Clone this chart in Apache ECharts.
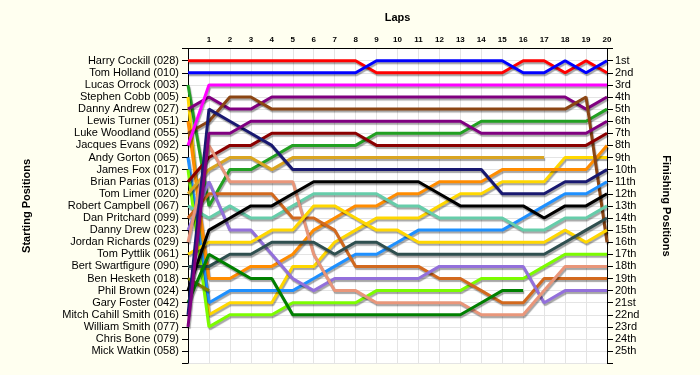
<!DOCTYPE html>
<html><head><meta charset="utf-8">
<script src="https://cdn.jsdelivr.net/npm/echarts@6/dist/echarts.min.js"></script>
<style>html,body{margin:0;padding:0;background:#fffff0}#c{width:700px;height:375px}</style>
</head><body><div id="c"></div><script>
const laps = ['0','1','2','3','4','5','6','7','8','9','10','11','12','13','14','15','16','17','18','19','20'];
const drivers = ['Harry Cockill (028)','Tom Holland (010)','Lucas Orrock (003)','Stephen Cobb (005)','Danny Andrew (027)','Lewis Turner (051)','Luke Woodland (055)','Jacques Evans (092)','Andy Gorton (065)','James Fox (017)','Brian Parias (013)','Tom Limer (020)','Robert Campbell (067)','Dan Pritchard (099)','Danny Drew (023)','Jordan Richards (029)','Tom Pyttlik (061)','Bert Swartfigure (090)','Ben Hesketh (018)','Phil Brown (024)','Gary Foster (042)','Mitch Cahill Smith (016)','William Smith (077)','Chris Bone (079)','Mick Watkin (058)'];
const finishLabels = ['1st','2nd','3rd','4th','5th','6th','7th','8th','9th','10th','11th','12th','13th','14th','15th','16th','17th','18th','19th','20th','21st','22nd','23rd','24th','25th'];

// position of each driver after each lap (index 0 = start)
const harryCockill     = [1,1,1,1,1,1,1,1,1,2,2,2,2,2,2,2,1,1,2,1,2];
const tomHolland       = [2,2,2,2,2,2,2,2,2,1,1,1,1,1,1,1,2,2,1,2,1];
const lucasOrrock      = [3,13,10,10,9,8,8,8,8,7,7,7,7,7,6,6,6,6,6,6,5];
const stephenCobb      = [4,22,21,21,21,18,18,16,15,14,14,14,13,12,12,11,11,11,9,9,9];
const dannyAndrew      = [5,4,5,5,4,4,4,4,4,4,4,4,4,4,4,4,4,4,4,5,4];
const lewisTurner      = [6,19,19,18,18,17,15,14,13,13,12,12,11,11,11,10,10,10,10,10,8];
const lukeWoodland     = [7,6,4,4,5,5,5,5,5,5,5,5,5,5,5,5,5,5,5,4,16];
const jacquesEvans     = [8,3,3,3,3,3,3,3,3,3,3,3,3,3,3,3,3,3,3,3,3];
const andyGorton       = [9,21,20,20,20,20,19,18,17,17,16,15,15,15,15,15,14,13,12,12,11];
const jamesFox         = [10,23,22,22,22,21,21,21,21,20,20,20,20,20,19,19,19,18,17,17,17];
const brianParias      = [11,9,8,8,7,7,7,7,7,8,8,8,8,8,8,8,8,8,8,8,7];
const tomLimer         = [12,10,9,9,10,9,9,9,9,9,9,9,9,9,9,9,9,9,null,null,null];
const robertCampbell   = [13,14,13,14,14,13,12,12,12,12,13,13,14,14,14,14,15,15,14,14,13];
const danPritchard     = [14,12,12,12,12,14,14,15,18,18,18,18,19,19,20,21,21,19,19,19,19];
const dannyDrew        = [15,11,15,15,17,19,20,19,19,19,19,19,18,18,18,18,18,21,20,20,20];
const jordanRichards   = [16,8,11,11,11,11,17,20,20,21,21,21,21,21,22,22,22,20,18,18,18];
const tomPyttlik       = [17,16,16,16,15,15,13,13,14,15,15,16,16,16,16,16,16,16,15,16,15];
const bertSwartfigure  = [18,18,17,17,16,16,16,17,16,16,17,17,17,17,17,17,17,17,16,15,14];
const benHesketh       = [19,20,null,null,null,null,null,null,null,null,null,null,null,null,null,null,null,null,null,null,null];
const philBrown        = [20,15,14,13,13,12,11,11,11,11,11,11,12,13,13,13,13,14,13,13,12];
const garyFoster       = [21,17,18,19,19,22,22,22,22,22,22,22,22,22,21,20,20,null,null,null,null];
const mitchCahillSmith = [22,5,6,7,8,10,10,10,10,10,10,10,10,10,10,12,12,12,11,11,10];
const williamSmith     = [23,7,7,6,6,6,6,6,6,6,6,6,6,6,7,7,7,7,7,7,6];

const seriesData = [harryCockill,tomHolland,lucasOrrock,stephenCobb,dannyAndrew,lewisTurner,lukeWoodland,jacquesEvans,andyGorton,jamesFox,brianParias,tomLimer,robertCampbell,danPritchard,dannyDrew,jordanRichards,tomPyttlik,bertSwartfigure,benHesketh,philBrown,garyFoster,mitchCahillSmith,williamSmith];
const colors = ['#ff0000','#0000ff','#22a022','#ffd700','#800080','#ff8c00','#8b4513','#ff00ff','#1e90ff','#7cfc00','#8b0000','#daa520','#66cdaa','#d2691e','#9370db','#e9967a','#ffd700','#2f4f4f','#808000','#000000','#008000','#191970','#800080'];

const chart = echarts.init(document.getElementById('c'));
const lbl = {fontFamily:'Liberation Sans, Arial, sans-serif', fontSize:11, color:'#000'};
const ttl = {fontFamily:'Liberation Sans, Arial, sans-serif', fontSize:11, fontWeight:'bold', color:'#000'};
chart.setOption({
  animation:false,
  backgroundColor:'#fffff0',
  grid:{left:188, right:93, top:48.6, bottom:11.8, show:true, backgroundColor:'#ffffff', borderWidth:0},
  xAxis:{type:'category', data:laps, boundaryGap:false, position:'top',
    name:'Laps', nameLocation:'middle', nameGap:25, nameTextStyle:ttl,
    axisLine:{show:true, lineStyle:{color:'#000', width:1}},
    axisTick:{show:false},
    axisLabel:{interval:0, margin:5, fontFamily:'Liberation Sans, Arial, sans-serif', fontSize:8, fontWeight:'bold', color:'#000', formatter:v=>v==='0'?'':v},
    splitLine:{show:true, interval:0, lineStyle:{color:'#e4e4e4', width:1}}},
  yAxis:[
    {type:'value', min:0, max:26, interval:1, inverse:true, position:'left',
     name:'Starting Positions', nameLocation:'middle', nameRotate:90, nameGap:156, nameTextStyle:ttl,
     axisLine:{show:true, lineStyle:{color:'#000', width:1}},
     axisTick:{show:true, length:6, lineStyle:{color:'#000'}},
     axisLabel:Object.assign({margin:9, formatter:v=>drivers[v-1]||''}, lbl),
     splitLine:{show:true, lineStyle:{color:'#e4e4e4', width:1}}},
    {type:'value', min:0, max:26, interval:1, inverse:true, position:'right',
     name:'Finishing Positions', nameLocation:'middle', nameRotate:-90, nameGap:54, nameTextStyle:ttl,
     axisLine:{show:true, lineStyle:{color:'#000', width:1}},
     axisTick:{show:true, length:6, lineStyle:{color:'#000'}},
     axisLabel:Object.assign({margin:8, formatter:v=>finishLabels[v-1]||''}, lbl),
     splitLine:{show:false}}
  ],
  series: seriesData.map((d,i)=>({
    type:'line', name:drivers[i], data:d, yAxisIndex:0, symbol:'none', showSymbol:false, silent:true,
    connectNulls:false,
    lineStyle:{width:3, color:colors[i], shadowColor:'rgba(0,0,0,0.35)', shadowOffsetX:1, shadowOffsetY:2, shadowBlur:1}
  }))
});
</script></body></html>
